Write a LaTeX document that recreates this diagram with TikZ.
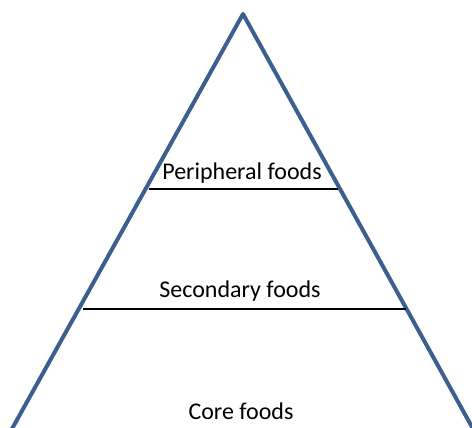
\documentclass[tikz,border=0pt]{standalone}
\usepackage{fontspec}
\setmainfont{Carlito}
\usepackage{tikz}

\definecolor{pyrblue}{HTML}{3B5F8E}

\begin{document}
\begin{tikzpicture}[x=1pt,y=-1pt]
\tikzset{side/.style={draw=pyrblue,line width=4pt,line join=round},
  level/.style={draw=black,line width=1.5pt},
  label/.style={font=\fontsize{24}{28}\selectfont,inner sep=0pt}}
\useasboundingbox (0,0) rectangle (472,428);
% corners of the pyramid
\coordinate (top) at (243,14);
\coordinate (bl) at (8,436);
\coordinate (br) at (477,436);
\draw [side] (bl) -- (top) -- (br);
% dividing lines
\coordinate (p1) at (149,189);
\coordinate (p2) at (338,189);
\draw [level] (p1) -- (p2);
\coordinate (s1) at (83,309);
\coordinate (s2) at (406,309);
\draw [level] (s1) -- (s2);
% labels
\node [label] (peri) at (242,173) {Peripheral foods};
\node [label] (sec) at (240,291) {Secondary foods};
\node [label] (core) at (241,411) {Core foods};
\end{tikzpicture}
\end{document}
